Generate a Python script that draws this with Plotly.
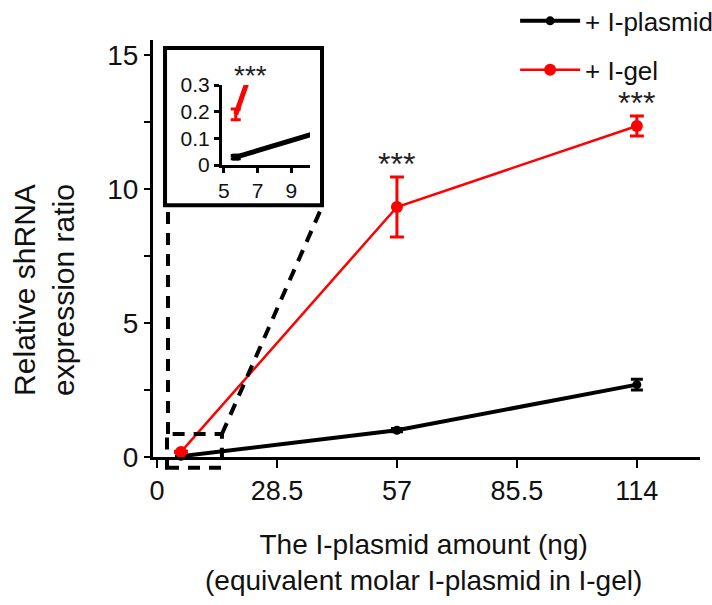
import plotly.graph_objects as go

# I-plasmid amounts (ng) tested
x_ng = [5.7, 57, 114]

# Relative shRNA expression ratio, mean and error
plasmid_mean = [0.03, 1.0, 2.7]
plasmid_err = [0.006, 0.06, 0.2]
gel_mean = [0.19, 9.33, 12.35]
gel_err = [0.02, 1.12, 0.37]

# Axis ticks
x_tickvals = [0, 28.5, 57, 85.5, 114]
x_ticktext = ["0", "28.5", "57", "85.5", "114"]
inset_x_ticks = [5, 7, 9]
inset_y_ticks = [0, 0.1, 0.2, 0.3]

# Significance marks
sig_x = [57, 114]
sig_text = ["***", "***"]

BLACK = "#000000"
RED = "#ff0000"
FONT = "Arial, Liberation Sans, sans-serif"

fig = go.Figure()

# main panel
fig.add_trace(go.Scatter(
    x=x_ng, y=plasmid_mean, name="+ I-plasmid", mode="lines+markers",
    line=dict(color=BLACK, width=4), marker=dict(color=BLACK, size=9),
    error_y=dict(type="data", array=plasmid_err, color=BLACK, thickness=3, width=6),
    cliponaxis=False, legendgroup="a",
))
fig.add_trace(go.Scatter(
    x=x_ng, y=gel_mean, name="+ I-gel", mode="lines+markers",
    line=dict(color=RED, width=2.5), marker=dict(color=RED, size=12),
    error_y=dict(type="data", array=gel_err, color=RED, thickness=3, width=7),
    cliponaxis=False, legendgroup="b",
))

# inset panel (zoom on the lowest dose)
fig.add_trace(go.Scatter(
    x=x_ng, y=plasmid_mean, mode="lines+markers", xaxis="x2", yaxis="y2",
    line=dict(color=BLACK, width=5), marker=dict(color=BLACK, size=7, symbol="square"),
    error_y=dict(type="data", array=plasmid_err, color=BLACK, thickness=3, width=5),
    showlegend=False,
))
fig.add_trace(go.Scatter(
    x=x_ng, y=gel_mean, mode="lines", xaxis="x2", yaxis="y2",
    line=dict(color=RED, width=5),
    error_y=dict(type="data", array=gel_err, color=RED, thickness=3, width=5),
    showlegend=False,
))

# significance stars above the upper error bars
for xs, txt in zip(sig_x, sig_text):
    i = x_ng.index(xs)
    fig.add_annotation(x=xs, y=gel_mean[i] + gel_err[i], text=txt, showarrow=False,
                       yanchor="bottom", yshift=-7, font=dict(size=32, color="#222"))
fig.add_annotation(x=6.55, y=0.3, xref="x2", yref="y2", text="***", showarrow=False,
                   yanchor="bottom", yshift=-8, font=dict(size=28, color="#222"))

# inset frame
fig.add_shape(type="rect", xref="paper", yref="paper", x0=0.022, x1=0.309, y0=0.604, y1=0.981,
              line=dict(color=BLACK, width=4))
# dashed zoom box and connectors
dash = dict(color=BLACK, width=4, dash="12px,9px")
fig.add_shape(type="rect", xref="paper", yref="paper", x0=0.0256, x1=0.126, y0=-0.026, y1=0.055,
              line=dash)
fig.add_shape(type="line", xref="paper", yref="paper", x0=0.0274, x1=0.0274, y0=0.055, y1=0.604,
              line=dash)
fig.add_shape(type="line", xref="paper", yref="paper", x0=0.126, x1=0.309, y0=0.055, y1=0.600,
              line=dash)

# axis titles
fig.add_annotation(xref="paper", yref="paper", x=-0.198, y=0.40, textangle=-90,
                   xanchor="center", yanchor="middle",
                   text="Relative shRNA<br>expression ratio", showarrow=False,
                   font=dict(size=30, color="#111"))
fig.add_annotation(xref="paper", yref="paper", x=0.494, y=-0.252,
                   xanchor="center", yanchor="middle",
                   text="The I-plasmid amount (ng)<br>(equivalent molar I-plasmid in I-gel)",
                   showarrow=False, font=dict(size=28, color="#111"))

axis_common = dict(showline=True, linecolor=BLACK, showgrid=False, zeroline=False,
                   ticks="outside", tickcolor=BLACK)

fig.update_layout(
    width=712, height=605,
    margin=dict(l=153, r=12, t=40, b=148, autoexpand=False),
    paper_bgcolor="white", plot_bgcolor="white",
    font=dict(family=FONT, color="#111"),
    xaxis=dict(**axis_common, range=[-0.95, 129], linewidth=3, tickwidth=2, ticklen=8,
               tickvals=x_tickvals, ticktext=x_ticktext, tickfont=dict(size=27)),
    yaxis=dict(**axis_common, range=[0, 15.56], linewidth=3, tickwidth=2, ticklen=6,
               tickvals=[0, 5, 10, 15], tickfont=dict(size=28),
               minor=dict(tickvals=[2.5, 7.5, 12.5], ticks="outside", ticklen=6,
                          tickwidth=2, tickcolor=BLACK)),
    xaxis2=dict(**axis_common, domain=[0.126, 0.287], anchor="y2", range=[4.88, 10.1],
                linewidth=3, tickwidth=3, ticklen=5, tickvals=inset_x_ticks,
                tickfont=dict(size=21)),
    yaxis2=dict(**axis_common, domain=[0.700, 0.892], anchor="x2", range=[0, 0.3],
                linewidth=3, tickwidth=3, ticklen=5, tickvals=inset_y_ticks,
                ticktext=["0", "0.1", "0.2", "0.3"], tickfont=dict(size=21)),
    legend=dict(x=0.662, y=1.102, xanchor="left", yanchor="top", traceorder="grouped",
                tracegroupgap=12, font=dict(size=26, color="#111"),
                bgcolor="rgba(0,0,0,0)", itemwidth=60),
    showlegend=True,
)

fig.write_html("out.html")
